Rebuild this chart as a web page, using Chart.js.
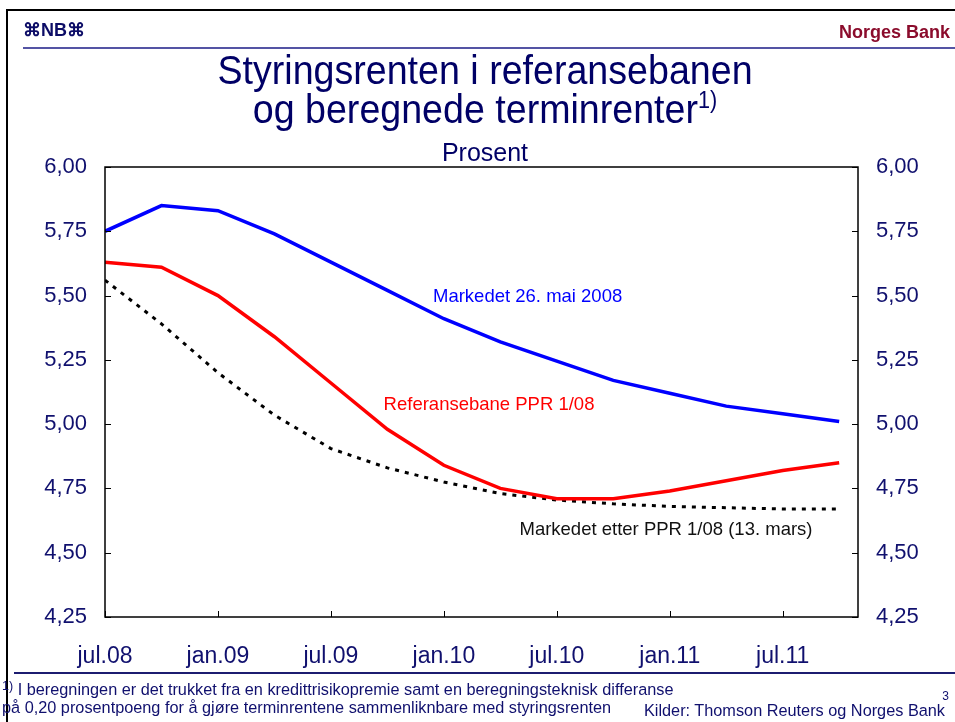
<!DOCTYPE html>
<html>
<head>
<meta charset="utf-8">
<script src="https://cdn.jsdelivr.net/npm/chart.js@4.4.1/dist/chart.umd.min.js"></script>
<style>
  body { margin: 0; background: #fff; font-family: "Liberation Sans", Arial, sans-serif; }
  #wrap { position: relative; width: 955px; height: 722px; overflow: hidden; }
  #chartCanvas { position: absolute; left: 0; top: 0; }
  .txt { position: absolute; line-height: 1; white-space: nowrap; }
  .title { left: 185px; width: 600px; text-align: center; color: #000066; transform: scaleX(0.94); }
  .frame { position: absolute; left: 6px; top: 9px; width: 1000px; height: 800px;
           border-left: 2px solid #000; border-top: 2px solid #000; }
</style>
</head>
<body>
<div id="wrap">
  <canvas id="chartCanvas" width="955" height="722"></canvas>
  <div class="frame"></div>
  <div class="txt" style="left:23px;top:21px;font-size:18px;font-weight:bold;color:#0c0c66;">⌘NB⌘</div>
  <div class="txt" style="right:5px;top:23px;font-size:18px;font-weight:bold;color:#8b0c2c;">Norges Bank</div>
  <div style="position:absolute;left:23px;top:47px;width:932px;height:2px;background:#5454a4;"></div>

  <div class="txt title" style="top:50px;font-size:40px;">Styringsrenten i referansebanen</div>
  <div class="txt title" style="top:89px;font-size:40px;">og beregnede terminrenter<span style="font-size:23px;vertical-align:15px;">1)</span></div>
  <div class="txt title" style="top:140px;font-size:25px;transform:none;">Prosent</div>

  <div style="position:absolute;left:14px;top:672px;width:941px;height:2px;background:#1c1c70;"></div>
  <div class="txt" style="left:2px;top:680px;font-size:16.3px;color:#10106e;"><span style="font-size:12.5px;vertical-align:5px;">1)</span> I beregningen er det trukket fra en kredittrisikopremie samt en beregningsteknisk differanse</div>
  <div class="txt" style="left:2px;top:699px;font-size:16.3px;color:#10106e;">på 0,20 prosentpoeng for å gjøre terminrentene sammenliknbare med styringsrenten</div>
  <div class="txt" style="right:10px;top:702px;font-size:16.3px;color:#10106e;">Kilder: Thomson Reuters og Norges Bank</div>
  <div class="txt" style="right:6px;top:690px;font-size:12px;color:#10106e;">3</div>
</div>
<script>
// months after jul.08, one point per quarter
const quarterMonths = [0, 3, 6, 9, 12, 15, 18, 21, 24, 27, 30, 33, 36, 39];

const marked26mai = [5.75, 5.85, 5.83, 5.74, 5.63, 5.52, 5.41, 5.32, 5.245, 5.17, 5.12, 5.07, 5.04, 5.01];
const referansebane = [5.63, 5.61, 5.50, 5.34, 5.16, 4.98, 4.84, 4.75, 4.71, 4.71, 4.74, 4.78, 4.82, 4.85];
const markedEtterPPR = [5.56, 5.39, 5.20, 5.035, 4.905, 4.83, 4.775, 4.73, 4.705, 4.69, 4.68, 4.675, 4.67, 4.67];

const xTickMonths = [0, 6, 12, 18, 24, 30, 36];
const xTickLabels = ['jul.08', 'jan.09', 'jul.09', 'jan.10', 'jul.10', 'jan.11', 'jul.11'];

const tickColor = '#10106e';

function toPoints(values) {
    return values.map((v, i) => ({ x: quarterMonths[i], y: v }));
}

// frame round the plot and the small inward tick marks
const framePlugin = {
    id: 'frame',
    afterDatasetsDraw(chart) {
        const ctx = chart.ctx;
        const a = chart.chartArea;
        const x = chart.scales.x;
        const yl = chart.scales.y;
        ctx.save();
        ctx.strokeStyle = '#000';
        ctx.lineWidth = 1.5;
        ctx.strokeRect(a.left, a.top, a.right - a.left, a.bottom - a.top);
        ctx.lineWidth = 1;
        ctx.beginPath();
        yl.ticks.forEach(t => {
            const py = Math.round(yl.getPixelForValue(t.value)) + 0.5;
            ctx.moveTo(a.left, py); ctx.lineTo(a.left + 6, py);
            ctx.moveTo(a.right, py); ctx.lineTo(a.right - 6, py);
        });
        xTickMonths.forEach(m => {
            const px = Math.round(x.getPixelForValue(m)) + 0.5;
            ctx.moveTo(px, a.bottom); ctx.lineTo(px, a.bottom - 6);
        });
        ctx.stroke();
        ctx.restore();
    }
};

// series names written in the plot
const labelPlugin = {
    id: 'seriesLabels',
    afterDraw(chart) {
        const ctx = chart.ctx;
        const x = chart.scales.x;
        const y = chart.scales.y;
        const items = [
            { text: 'Markedet 26. mai 2008', m: 22.45, v: 5.475, color: '#0000ff' },
            { text: 'Referansebane PPR 1/08', m: 20.4, v: 5.055, color: '#ff0000' },
            { text: 'Markedet etter PPR 1/08 (13. mars)', m: 29.8, v: 4.57, color: '#111111' }
        ];
        ctx.save();
        ctx.font = '18.5px "Liberation Sans", Arial, sans-serif';
        ctx.textAlign = 'center';
        ctx.textBaseline = 'alphabetic';
        items.forEach(it => {
            ctx.fillStyle = it.color;
            ctx.fillText(it.text, x.getPixelForValue(it.m), y.getPixelForValue(it.v));
        });
        ctx.restore();
    }
};

const yTicks = {
    stepSize: 0.25,
    color: tickColor,
    padding: 18,
    autoSkip: false,
    font: { family: '"Liberation Sans", Arial, sans-serif', size: 22 },
    callback: v => v.toFixed(2).replace('.', ',')
};

const ctx = document.getElementById('chartCanvas').getContext('2d');
new Chart(ctx, {
    type: 'line',
    data: {
        datasets: [
            {
                label: 'Markedet 26. mai 2008',
                data: toPoints(marked26mai),
                borderColor: '#0000ff',
                borderWidth: 3.5
            },
            {
                label: 'Referansebane PPR 1/08',
                data: toPoints(referansebane),
                borderColor: '#ff0000',
                borderWidth: 3.5
            },
            {
                label: 'Markedet etter PPR 1/08 (13. mars)',
                data: toPoints(markedEtterPPR),
                borderColor: '#000000',
                borderWidth: 3,
                borderDash: [4, 6]
            }
        ]
    },
    options: {
        responsive: false,
        animation: false,
        devicePixelRatio: 1,
        elements: { point: { radius: 0 }, line: { tension: 0, fill: false, borderCapStyle: 'butt' } },
        layout: { padding: { top: 167, left: 0, right: 0, bottom: 0 } },
        plugins: {
            legend: { display: false },
            tooltip: { enabled: false }
        },
        scales: {
            x: {
                type: 'linear',
                min: 0,
                max: 40,
                afterFit: s => { s.height = 105; },
                afterBuildTicks: s => { s.ticks = xTickMonths.map(v => ({ value: v })); },
                grid: { display: false, drawTicks: false },
                border: { display: false },
                ticks: {
                    color: tickColor,
                    padding: 26,
                    maxRotation: 0,
                    autoSkip: false,
                    font: { family: '"Liberation Sans", Arial, sans-serif', size: 23 },
                    callback: v => xTickLabels[xTickMonths.indexOf(v)]
                }
            },
            y: {
                position: 'left',
                min: 4.25,
                max: 6,
                afterFit: s => { s.width = 105; },
                grid: { display: false, drawTicks: false },
                border: { display: false },
                ticks: yTicks
            },
            y2: {
                position: 'right',
                min: 4.25,
                max: 6,
                afterFit: s => { s.width = 97; },
                grid: { display: false, drawTicks: false },
                border: { display: false },
                ticks: yTicks
            }
        }
    },
    plugins: [framePlugin, labelPlugin]
});
</script>
</body>
</html>
